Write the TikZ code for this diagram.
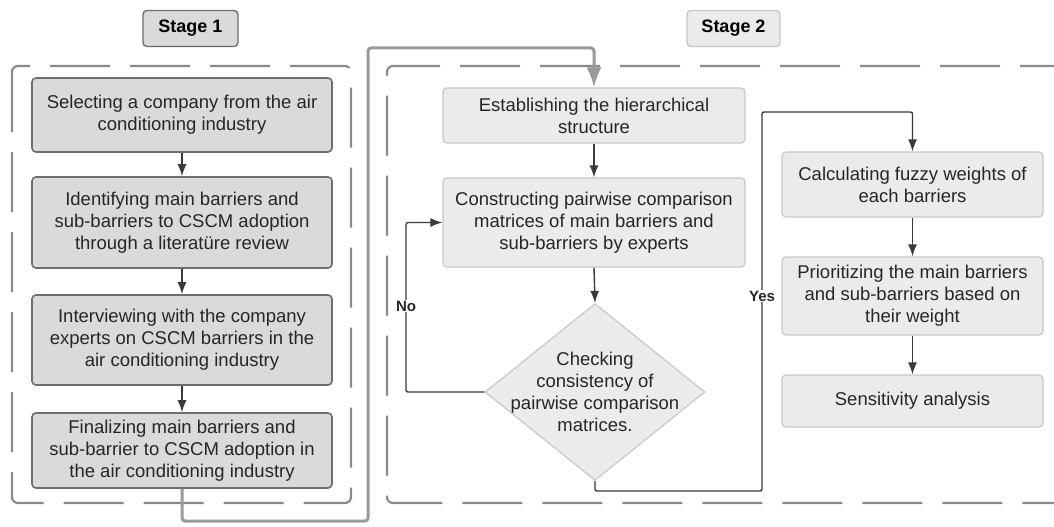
\documentclass[tikz,border=0pt]{standalone}
\usepackage{fontspec}
\setmainfont{Liberation Sans}
\usetikzlibrary{arrows.meta,shapes.geometric}
\definecolor{txt}{HTML}{262626}
\definecolor{sonefill}{HTML}{DADADA}
\definecolor{soneline}{HTML}{6E6E6E}
\definecolor{stwofill}{HTML}{EBEBEB}
\definecolor{stwoline}{HTML}{C8C8C8}
\definecolor{dashcol}{HTML}{8A8A8A}
\definecolor{conn}{HTML}{3A3A3A}
\definecolor{bigconn}{HTML}{9A9A9A}
\tikzset{
  boxtext/.style={font=\fontsize{18.5}{22}\selectfont, text=txt, align=center},
  sonebox/.style={boxtext, draw=soneline, fill=sonefill, line width=1.6pt, rounded corners=4pt, minimum width=300pt, inner sep=0pt},
  stwobox/.style={boxtext, draw=stwoline, fill=stwofill, line width=1.2pt, rounded corners=4pt, inner sep=0pt},
  stagelabel/.style={font=\fontsize{18}{20}\selectfont\bfseries, text=black, rounded corners=4pt, line width=1.4pt, minimum height=36pt, inner sep=0pt},
  dashbox/.style={draw=dashcol, line width=2.2pt, dash pattern=on 60pt off 20pt, rounded corners=6pt},
  flow/.style={draw=conn, line width=1.4pt, -{Latex[length=12pt,width=9pt]}},
  bigflow/.style={draw=bigconn, line width=3pt, rounded corners=3pt, -{Latex[length=20pt,width=15pt]}},
  flowlabel/.style={font=\fontsize{15}{17}\selectfont\bfseries, text=txt, fill=white, inner sep=1pt}
}
\begin{document}
\begin{tikzpicture}[x=1pt,y=-1pt]
\useasboundingbox (0,0) rectangle (1054,527);
\fill[white] (0,0) rectangle (1054,527);
\clip (0,0) rectangle (1054,527);

% stage labels
\node[stagelabel, draw=soneline, fill=sonefill, minimum width=95pt] (s1) at (190.5,28.5) {Stage 1};
\node[stagelabel, draw=stwoline, fill=stwofill, minimum width=93pt] (s2) at (733.5,28.5) {Stage 2};

% dashed containers
\draw[dashbox] (12,66) rectangle (351,503);
\draw[dashbox] (1080,66) -- (387,66) -- (387,503) -- (1080,503);

% stage 1 boxes
\node[sonebox, minimum height=74pt] (b1) at (182,115) {Selecting a company from the air\\conditioning industry};
\node[sonebox, minimum height=91pt] (b2) at (182,222.5) {Identifying main barriers and\\sub-barriers to CSCM adoption\\through a literatüre review};
\node[sonebox, minimum height=90pt] (b3) at (182,340) {Interviewing with the company\\experts on CSCM barriers in the\\air conditioning industry};
\node[sonebox, minimum height=75pt] (b4) at (182,450.5) {Finalizing main barriers and\\sub-barrier to CSCM adoption in\\the air conditioning industry};

% stage 2 boxes
\node[stwobox, minimum width=302pt, minimum height=55pt] (e1) at (594,115.5) {Establishing the hierarchical\\structure};
\node[stwobox, minimum width=302pt, minimum height=89pt] (e2) at (594,222.5) {Constructing pairwise comparison\\matrices of main barriers and\\sub-barriers by experts};
\node[diamond, draw=stwoline, fill=stwofill, line width=1.2pt, minimum width=220pt, minimum height=177pt, inner sep=0pt] (d) at (595,392) {};
\node[boxtext] (dt) at (d.center) {Checking\\consistency of\\pairwise comparison\\matrices.};

\node[stwobox, minimum width=261pt, minimum height=65pt] (c1) at (912.5,184.5) {Calculating fuzzy weights of\\each barriers};
\node[stwobox, minimum width=261pt, minimum height=78pt] (c2) at (912.5,296) {Prioritizing the main barriers\\and sub-barriers based on\\their weight};
\node[stwobox, minimum width=261pt, minimum height=52pt] (c3) at (912.5,401) {Sensitivity analysis};

% stage 1 flow
\draw[flow] (b1) -- (b2);
\draw[flow] (b2) -- (b3);
\draw[flow] (b3) -- (b4);

% big connector stage 1 -> stage 2
\coordinate (g1) at (182,521);
\coordinate (g2) at (368,521);
\coordinate (g3) at (368,48);
\coordinate (g4) at (594,48);
\draw[bigflow] (b4.south) -- (g1) -- (g2) -- (g3) -- (g4) -- (e1.north);

% stage 2 flow
\draw[flow] (e1) -- (e2);
\draw[flow] (e2.south) -- (d.north);

% No loop
\coordinate (n1) at (406,392);
\coordinate (n2) at (406,222.5);
\draw[flow, rounded corners=2pt] (d.west) -- (n1) -- (n2) -- (e2.west);
\node[flowlabel] (nolab) at (406,306) {No};

% Yes path
\coordinate (y1) at (595,491);
\coordinate (y2) at (762,491);
\coordinate (y3) at (762,112);
\coordinate (y4) at (912.5,112);
\draw[flow, rounded corners=2pt] (d.south) -- (y1) -- (y2) -- (y3) -- (y4) -- (c1.north);
\node[flowlabel] (yeslab) at (762,296) {Yes};

\draw[flow] (c1) -- (c2);
\draw[flow] (c2) -- (c3);
\end{tikzpicture}
\end{document}
